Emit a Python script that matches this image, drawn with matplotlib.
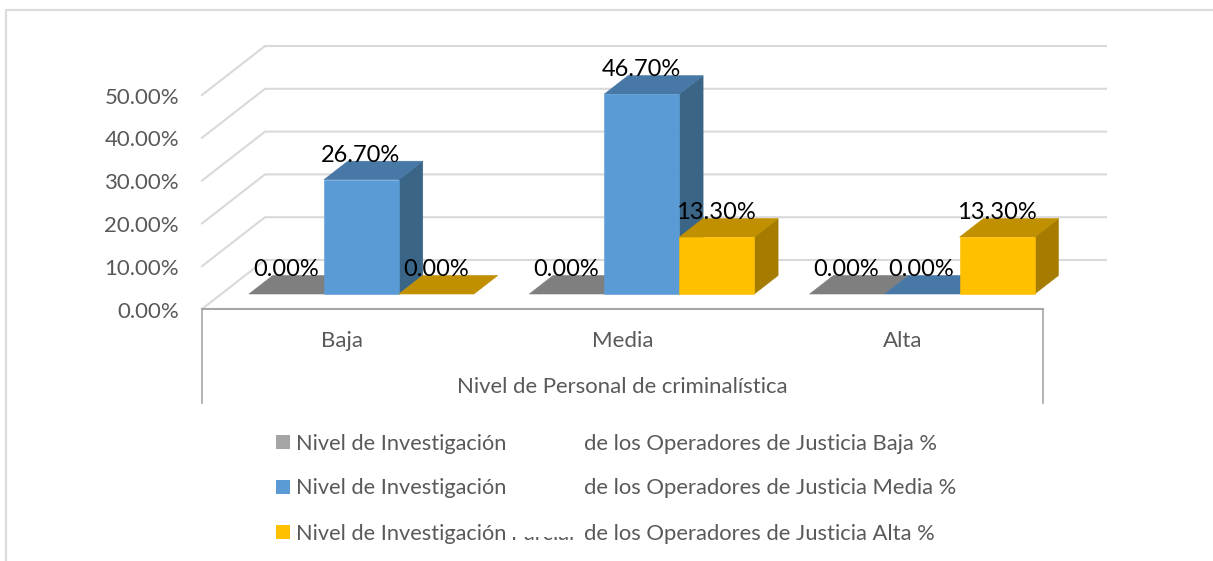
import matplotlib
matplotlib.use("Agg")
import matplotlib.pyplot as plt
from matplotlib.patches import Polygon, Rectangle
from matplotlib.lines import Line2D
from matplotlib.transforms import Bbox

W, H = 1213, 561
categories = ["Baja", "Media", "Alta"]
series_names = [
    "Nivel de Investigación",
    "Nivel de Investigación",
    "Nivel de Investigación",
]
series_suffix = [
    "de los Operadores de Justicia Baja %",
    "de los Operadores de Justicia Media %",
    "de los Operadores de Justicia Alta %",
]
baja_values = [0.0, 0.0, 0.0]
media_values = [26.7, 46.7, 0.0]
alta_values = [0.0, 13.3, 13.3]
series_values = [baja_values, media_values, alta_values]
y_ticks = [0, 10, 20, 30, 40, 50]
axis_title = "Nivel de Personal de criminalística"

front = ["#A5A5A5", "#5B9BD5", "#FFC000"]
top = ["#7F7F7F", "#4878A6", "#C09000"]
side = ["#636363", "#3A6587", "#A67C00"]
TEXT = "#595959"
GRID = "#D9D9D9"
AXIS = "#A6A6A6"

plt.rcParams["font.family"] = ["Lato", "DejaVu Sans"]
fig = plt.figure(figsize=(W / 100, H / 100), dpi=100, facecolor="white")


def fx(x):
    return x / W


def fy(y):
    return 1 - y / H


BASE = 309
ax = fig.add_axes([fx(202), fy(BASE), (1043 - 202) / W, 214 / H])
ax.set_xlim(-0.5, 2.5)
ax.set_ylim(0, 50)
ax.axis("off")

UX = 841 / 3  # px per category
UY = 214 / 50  # px per percent
DX = 63 / UX  # full wall depth in category units
DY = 49 / UY  # full wall depth in percent units


def proj(x, y, d):
    return (x + d * DX, y + d * DY)


def poly(pts, color, z):
    ax.add_patch(Polygon(pts, closed=True, facecolor=color, edgecolor=color,
                         linewidth=0.4, zorder=z, clip_on=False))


# walls
for v in y_ticks:
    p0, p1, p2 = proj(-0.5, v, 0), proj(-0.5, v, 1), proj(2.5, v, 1)
    ax.plot([p0[0], p1[0], p2[0]], [p0[1], p1[1], p2[1]], color=GRID, lw=1.5,
            clip_on=False, zorder=1, solid_joinstyle="miter")

# bars
BW = 75 / UX
D0, D1 = 0.306, 0.684
z = 3
for ci in range(len(categories)):
    for si in range(len(series_values)):
        v = series_values[si][ci]
        x0 = ci + (si - 1.5) * BW
        x1 = x0 + BW
        if v > 0:
            poly([proj(x1, 0, D0), proj(x1, 0, D1), proj(x1, v, D1), proj(x1, v, D0)], side[si], z)
        poly([proj(x0, v, D0), proj(x1, v, D0), proj(x1, v, D1), proj(x0, v, D1)], top[si], z)
        if v > 0:
            poly([proj(x0, 0, D0), proj(x1, 0, D0), proj(x1, v, D0), proj(x0, v, D0)], front[si], z)
        z += 1
        ax.annotate(f"{v:.2f}%", xy=proj((x0 + x1) / 2, v, D0), xytext=(-0.4, 17.8),
                    textcoords="offset points", ha="center", va="center",
                    fontsize=17, color="black", zorder=50, annotation_clip=False)

# category axis
ax.plot([-0.5, 2.5], [0, 0], color=AXIS, lw=1.5, clip_on=False, zorder=2)
for xv in (-0.5, 2.5):
    ax.add_line(Line2D([xv, xv], [0, -(403 - BASE) / UY], color=AXIS, lw=1.2, clip_on=False, zorder=2))
for ci, c in enumerate(categories):
    ax.text(ci, -(341 - BASE) / UY, c, ha="center", va="center", fontsize=16, color=TEXT)
ax.text(1, -(387 - BASE) / UY, axis_title, ha="center", va="center", fontsize=15.9, color=TEXT)

# value axis labels
for v in y_ticks:
    ax.text(-0.5 - 23 / UX, v - 2.5 / UY, f"{v:.2f}%", ha="right", va="center", fontsize=16, color=TEXT)

# legend
legend_y = [441.5, 486.5, 532]
for i in range(3):
    y = legend_y[i]
    fig.add_artist(Rectangle((fx(276), fy(y + 7)), 14 / W, 14 / H, transform=fig.transFigure,
                             facecolor=front[i], edgecolor="none"))
    fig.text(fx(296), fy(y + 2), series_names[i], ha="left", va="center", fontsize=15.7, color=TEXT)
    fig.text(fx(584), fy(y + 2), series_suffix[i], ha="left", va="center", fontsize=15.8, color=TEXT)

# remains of the masked word on the third legend row
t = fig.text(fx(511), fy(534), "Parcial", ha="left", va="center", fontsize=15.7, color=TEXT)
t.set_clip_box(Bbox([[505, H - 540], [580, H - 537]]))
t.set_clip_on(True)

# chart border: open on the right and bottom
bc = "#DCDCDC"
fig.add_artist(Line2D([fx(6), fx(6), fx(1213)], [fy(561), fy(10), fy(10)],
                      transform=fig.transFigure, color=bc, lw=1.6, solid_joinstyle="miter"))

fig.savefig("out.png", dpi=100)
